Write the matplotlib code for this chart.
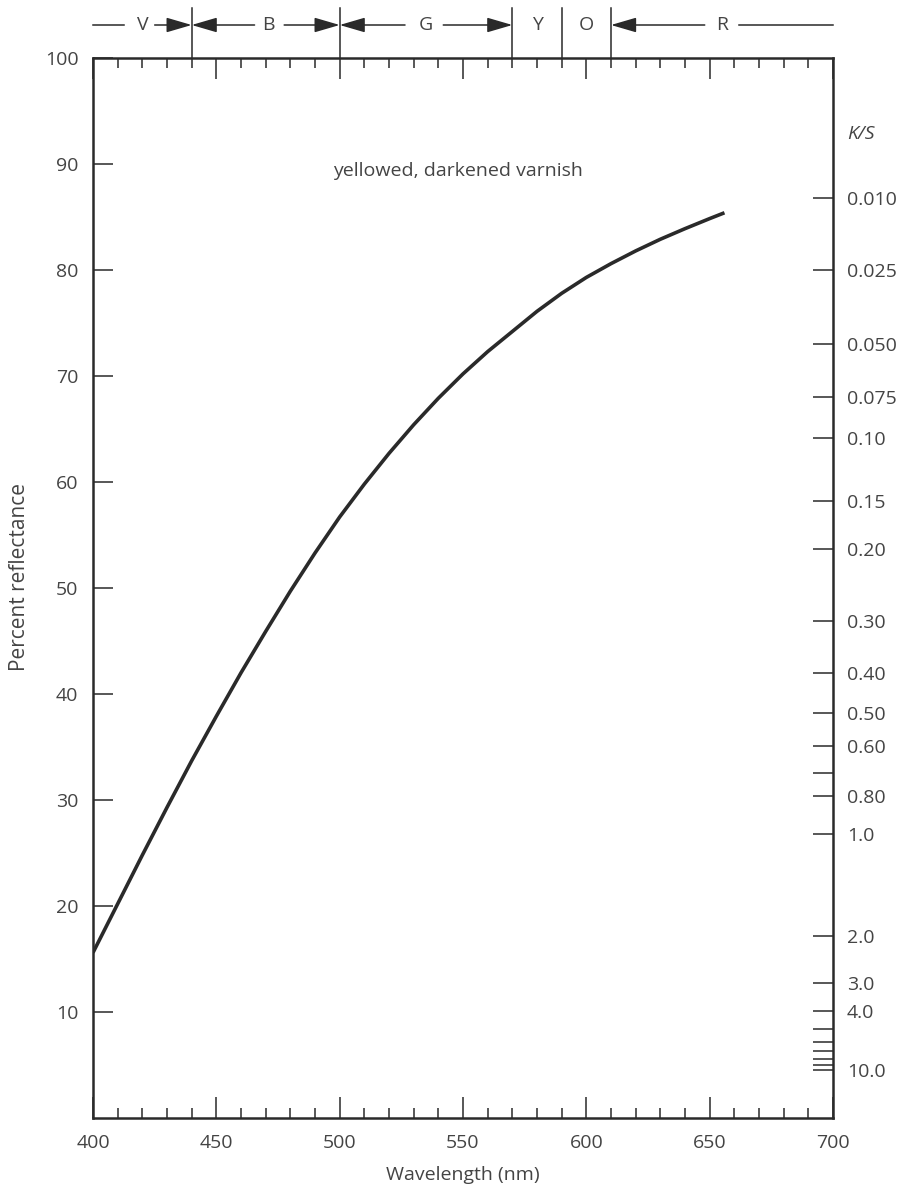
import numpy as np
import matplotlib
matplotlib.use("Agg")
import matplotlib.pyplot as plt

# ---- data ----
wavelength = [400, 410, 420, 430, 440, 450, 460, 470, 480, 490, 500, 510, 520,
              530, 540, 550, 560, 570, 580, 590, 600, 610, 620, 630, 640, 650, 656]
reflectance = [15.6, 20.2, 24.8, 29.3, 33.7, 37.9, 42.0, 45.9, 49.7, 53.3, 56.7,
               59.8, 62.7, 65.4, 67.9, 70.2, 72.3, 74.2, 76.1, 77.8, 79.3, 80.6,
               81.8, 82.9, 83.9, 84.85, 85.4]
left_ticks = [10, 20, 30, 40, 50, 60, 70, 80, 90, 100]
bottom_ticks = [400, 450, 500, 550, 600, 650, 700]
ks_labeled = [0.010, 0.025, 0.050, 0.075, 0.10, 0.15, 0.20, 0.30, 0.40, 0.50,
              0.60, 0.80, 1.0, 2.0, 3.0, 4.0, 10.0]
ks_labels = ["0.010", "0.025", "0.050", "0.075", "0.10", "0.15", "0.20", "0.30",
             "0.40", "0.50", "0.60", "0.80", "1.0", "2.0", "3.0", "4.0", "10.0"]
ks_unlabeled = [0.70, 5.0, 6.0, 7.0, 8.0, 9.0]
band_bounds = [440, 500, 570, 590, 610]
band_labels = ["V", "B", "G", "Y", "O", "R"]
band_label_x = [420, 471, 535, 580, 600, 655]

TXT = "#444444"
LN = "#2a2a2a"
FONT = "Open Sans"
FS = 14
plt.rcParams['font.family'] = [FONT, 'DejaVu Sans']


def ks_to_r(ks):
    # Kubelka-Munk: K/S = (1-R)^2 / (2R)  ->  R (percent)
    k = np.asarray(ks, dtype=float)
    r = (1 + k) - np.sqrt((1 + k) ** 2 - 1)
    return 100 * r


fig = plt.figure(figsize=(9.04, 11.91), dpi=100)
ax = fig.add_axes([93 / 904, 73 / 1191, 740 / 904, 1060 / 1191])

ax.plot(wavelength, reflectance, color=LN, lw=2.6, solid_capstyle='butt',
        solid_joinstyle='round')
ax.set_xlim(400, 700)
ax.set_ylim(0, 100)

for s in ax.spines.values():
    s.set_linewidth(1.8)
    s.set_color(LN)

ax.set_xticks(bottom_ticks)
ax.set_xticks(np.arange(400, 701, 10), minor=True)
ax.set_yticks(left_ticks)
ax.set_yticklabels([str(v) for v in left_ticks])
ax.tick_params(axis='x', which='major', direction='in', length=15, width=1.1,
               color=LN, labelsize=FS, labelcolor=TXT, pad=11.5, top=True)
ax.tick_params(axis='x', which='minor', direction='in', length=7.5, width=1.1,
               color=LN, top=True)
ax.tick_params(axis='y', which='major', direction='in', length=14.5, width=1.1,
               color=LN, labelsize=FS, labelcolor=TXT, pad=10.5)

# right K/S axis
ax2 = ax.twinx()
ax2.set_ylim(0, 100)
ax2.set_yticks(list(ks_to_r(ks_labeled)))
ax2.set_yticklabels(ks_labels)
ax2.set_yticks(list(ks_to_r(ks_unlabeled)), minor=True)
ax2.tick_params(axis='y', which='both', direction='in', length=14.5, width=1.1,
                color=LN, labelsize=FS, labelcolor=TXT, pad=10)
for s in ax2.spines.values():
    s.set_visible(False)

ax.text((847 - 93) / 740, (1118 - 134) / 1060, "K/S", transform=ax.transAxes,
        fontsize=FS, style='italic', color=TXT, ha='left', va='center')

ax.text(548, 89.3, "yellowed, darkened varnish", fontsize=FS, color=TXT,
        ha='center', va='center')

fig.text(20 / 904, (1191 - 577) / 1191, "Percent reflectance", rotation=90,
         fontsize=15, color=TXT, ha='center', va='center')
fig.text(463 / 904, (1191 - 1175) / 1191, "Wavelength (nm)",
         fontsize=FS, color=TXT, ha='center', va='center')

# ---- top colour band ----
trans = ax.get_xaxis_transform()
y_top = (1118 - 8) / 1060
y_arr = (1118 - 25) / 1060
for b in band_bounds:
    ax.plot([b, b], [1.0, y_top], transform=trans, color=LN, lw=1.1,
            clip_on=False)
for lab, x in zip(band_labels, band_label_x):
    ax.text(x, y_arr, lab, transform=trans, fontsize=FS, color=TXT,
            ha='center', va='center', clip_on=False)

aprops = dict(arrowstyle='-|>,head_length=1.3,head_width=0.38', color=LN,
              lw=1.1, shrinkA=0, shrinkB=0, mutation_scale=12)
segments = [
    (400, 412.5, False), (425, 440, True),
    (465.5, 440, True), (477.5, 500, True),
    (526.5, 500, True), (542, 570, True),
    (648, 610, True), (662, 700, False),
]
for x0, x1, head in segments:
    if head:
        ax.annotate('', xy=(x1, y_arr), xytext=(x0, y_arr), xycoords=trans,
                    textcoords=trans, arrowprops=aprops, annotation_clip=False)
    else:
        ax.plot([x0, x1], [y_arr, y_arr], transform=trans, color=LN, lw=1.1,
                clip_on=False)

fig.savefig("out.png", dpi=100, facecolor='white')
